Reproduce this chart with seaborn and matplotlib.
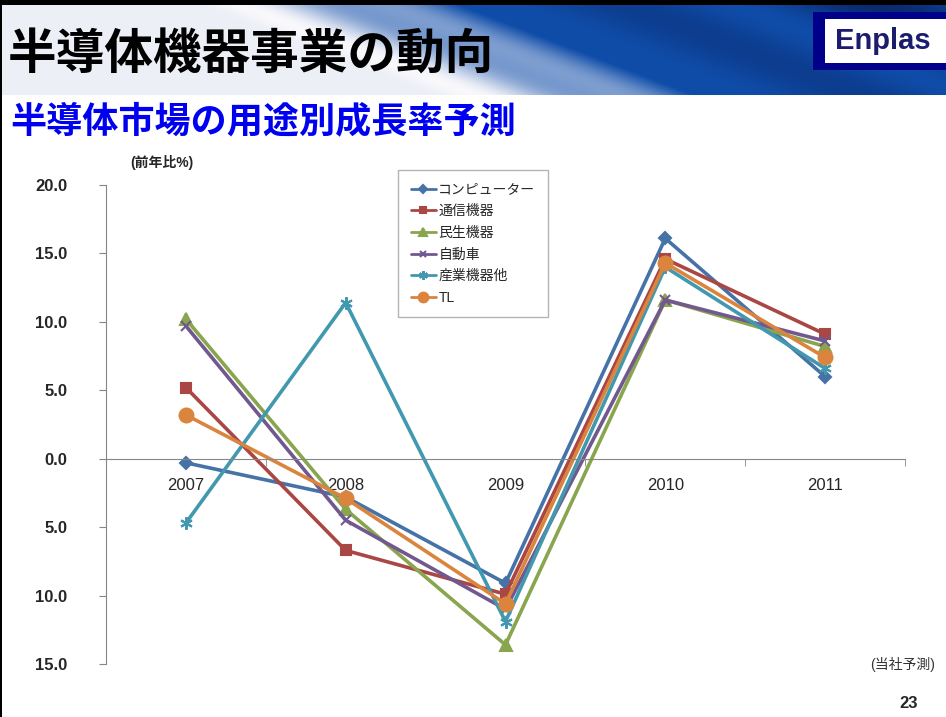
import numpy as np
import pandas as pd
import matplotlib
matplotlib.use("Agg")
import matplotlib.pyplot as plt
import matplotlib.ticker as mticker
from matplotlib.patches import Rectangle
import seaborn as sns

# --------------------------------------------------
# Data (前年比 %)
# --------------------------------------------------

years = ["2007", "2008", "2009", "2010", "2011"]

computer = [-0.3, -2.8, -9.1, 16.1, 6.0]
telecom = [5.2, -6.7, -9.9, 14.6, 9.1]
consumer = [10.2, -3.7, -13.6, 11.6, 8.2]
automotive = [9.7, -4.5, -11.0, 11.6, 8.6]
industrial = [-4.7, 11.4, -11.9, 14.0, 6.6]
total = [3.2, -2.9, -10.6, 14.3, 7.4]

series_names = ["コンピューター", "通信機器", "民生機器", "自動車", "産業機器他", "TL"]
series_values = [computer, telecom, consumer, automotive, industrial, total]

y_ticks = [-15, -10, -5, 0, 5, 10, 15, 20]

# --------------------------------------------------
# Styles
# --------------------------------------------------

colors = ["#4572A7", "#AA4643", "#89A54E", "#71588F", "#4198AF", "#DB843D"]
markers = ["D", "s", "^", "x", (6, 2, 0), "o"]
marker_sizes = [6, 7, 8, 7, 9, 10]

sns.set_style("white")
plt.rcParams["font.family"] = ["Liberation Sans", "Noto Sans CJK JP", "DejaVu Sans"]

W, H = 946, 717
fig = plt.figure(figsize=(W / 100, H / 100), dpi=100)
fig.patch.set_facecolor("white")

# --------------------------------------------------
# Header banner (decorative gradient)
# --------------------------------------------------

bh = 90
ban = fig.add_axes([0, 1 - 95 / H, 1, bh / H])
yy, xx = np.mgrid[0:bh, 0:W]
u = xx - 2.6 * yy
t = np.clip((u - 200) / 260, 0, 1)
streak = 0.5 + 0.5 * np.sin(u / 30.0)
light = np.array([0.93, 0.94, 0.97])
blue = np.array([0.06, 0.30, 0.66])
navy = np.array([0.02, 0.08, 0.30])
img = (1 - t)[..., None] * light + t[..., None] * blue
img = img + (t * (1 - t) * 1.6 * streak)[..., None] * (light - blue)
dark = np.clip((u - 520) / 200, 0, 1) * (0.5 + 0.5 * np.sin(u / 45.0 + 1.0))
img = img * (1 - 0.6 * dark)[..., None] + (0.6 * dark)[..., None] * navy
ban.imshow(np.clip(img, 0, 1), aspect="auto", extent=(0, W, bh, 0))
ban.axis("off")

fig.add_artist(Rectangle((0, 1 - 5 / H), 1, 5 / H, transform=fig.transFigure,
                         color="black", lw=0))
fig.add_artist(Rectangle((0, 0), 2 / W, 1, transform=fig.transFigure,
                         color="black", lw=0))

fig.text(8 / W, 1 - 55 / H, "半導体機器事業の動向", fontsize=35,
         family=["Noto Sans CJK JP"], weight="bold",
         va="center", ha="left", color="black")

# logo
fig.add_artist(Rectangle((813 / W, 1 - 70 / H), 133 / W, 58 / H,
                         transform=fig.transFigure, facecolor="#00008B", lw=0))
fig.add_artist(Rectangle((825 / W, 1 - 63 / H), 121 / W, 44 / H,
                         transform=fig.transFigure, facecolor="white", lw=0))
fig.text(883 / W, 1 - 41 / H, "Enplas", fontsize=21, weight="bold",
         color="#1c1c6e", ha="center", va="center")

fig.text(10 / W, 1 - 122 / H, "半導体市場の用途別成長率予測", fontsize=26,
         family=["Noto Sans CJK JP"], weight="bold", style="italic",
         color="#0000F0", va="center", ha="left")

# --------------------------------------------------
# Chart
# --------------------------------------------------

ax = fig.add_axes([106 / W, 1 - 664 / H, 799 / W, 479 / H])

for name, vals, c, m, ms in zip(series_names, series_values, colors,
                                markers, marker_sizes):
    sns.lineplot(
        x=years,
        y=vals,
        ax=ax,
        color=c,
        marker=m,
        markersize=ms,
        markeredgecolor=c,
        markerfacecolor=c,
        markeredgewidth=1.5,
        linewidth=2.6,
        label=name,
        sort=False
    )

ax.set_xlim(-0.5, len(years) - 0.5)
ax.set_ylim(min(y_ticks), max(y_ticks))
ax.set_yticks(y_ticks)
ax.yaxis.set_major_formatter(
    mticker.FuncFormatter(lambda v, p: f"{abs(v):.1f}"))

for side in ["top", "right"]:
    ax.spines[side].set_visible(False)
ax.spines["left"].set_color("#868686")
ax.spines["bottom"].set_color("#868686")
ax.spines["bottom"].set_position(("data", 0))

ax.tick_params(axis="y", direction="out", length=5, color="#868686",
               labelsize=12, pad=23, left=True)
for lab in ax.get_yticklabels():
    lab.set_fontweight("bold")

ax.set_xticks(range(len(years)))
ax.set_xticklabels(years)
ax.set_xticks(np.arange(-0.5, len(years), 1.0), minor=True)
ax.tick_params(axis="x", which="major", length=0, labelsize=12, pad=14)
ax.tick_params(axis="x", which="minor", length=5, direction="out",
               color="#868686", bottom=True)
ax.set_xlabel("")
ax.set_ylabel("")

handles, labels = ax.get_legend_handles_labels()
leg = ax.legend(
    handles, labels,
    loc="upper left",
    bbox_to_anchor=(398 / W, 1 - 170 / H),
    bbox_transform=fig.transFigure,
    fontsize=10,
    frameon=True,
    fancybox=False,
    edgecolor="#a0a0a0",
    handlelength=1.8,
    handletextpad=0.2,
    labelspacing=0.55,
    borderpad=0.9,
    borderaxespad=0,
    markerscale=0.7
)
leg.get_frame().set_linewidth(1.0)
for ln in leg.get_lines():
    ln.set_linewidth(2.0)

fig.text(130 / W, 1 - 163 / H, "(前年比%)", fontsize=10, weight="bold",
         va="center", ha="left")
fig.text(935 / W, 1 - 664 / H, "(当社予測)", fontsize=10, color="#333333",
         va="center", ha="right")
fig.text(918 / W, 1 - 703 / H, "23", fontsize=12, weight="bold",
         va="center", ha="right")

fig.savefig("out.png", dpi=100)
